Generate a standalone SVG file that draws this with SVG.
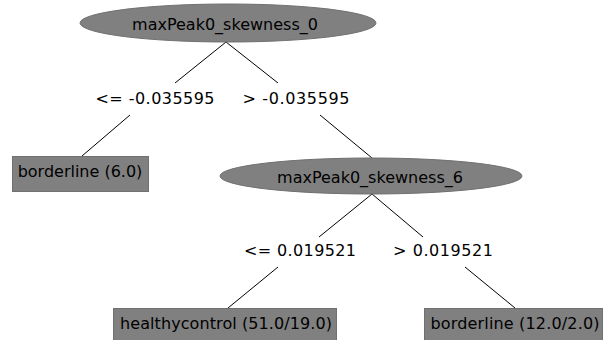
<svg xmlns="http://www.w3.org/2000/svg" width="605" height="340" viewBox="0 0 605 340">
<style>
text{font-family:"DejaVu Sans",sans-serif;font-size:16px;fill:#000;text-anchor:middle}
.n{fill:#808080;stroke:#707070;stroke-width:1}
.e{stroke:#000;stroke-width:1;fill:none}
</style>
<rect width="605" height="340" fill="#fff"/>
<g id="connectors">
<line class="e" x1="226" y1="42" x2="175" y2="83"/>
<line class="e" x1="226" y1="42" x2="278" y2="83"/>
<line class="e" x1="130" y1="115" x2="82" y2="156"/>
<line class="e" x1="320" y1="115" x2="372" y2="158"/>
<line class="e" x1="372" y1="194" x2="319" y2="237"/>
<line class="e" x1="372" y1="194" x2="423" y2="237"/>
<line class="e" x1="278" y1="267" x2="228" y2="308"/>
<line class="e" x1="465" y1="267" x2="515" y2="308"/>
<text x="155" y="104" textLength="119" lengthAdjust="spacing">&lt;= -0.035595</text>
<text x="296" y="104" textLength="107" lengthAdjust="spacing">&gt; -0.035595</text>
<text x="300" y="256" textLength="112" lengthAdjust="spacing">&lt;= 0.019521</text>
<text x="443" y="256" textLength="100" lengthAdjust="spacing">&gt; 0.019521</text>
</g>
<g id="node0">
<ellipse class="n" cx="228" cy="23" rx="148" ry="19"/>
<text x="225" y="30">maxPeak0_skewness_0</text>
</g>
<g id="node1">
<rect class="n" x="12.5" y="156.5" width="136" height="35"/>
<text x="80" y="177">borderline (6.0)</text>
</g>
<g id="node2">
<ellipse class="n" cx="371" cy="176" rx="151" ry="18"/>
<text x="370" y="183">maxPeak0_skewness_6</text>
</g>
<g id="node3">
<rect class="n" x="113.5" y="308.5" width="223" height="35"/>
<text x="226" y="329" textLength="212" lengthAdjust="spacing">healthycontrol (51.0/19.0)</text>
</g>
<g id="node4">
<rect class="n" x="424.5" y="308.5" width="178" height="35"/>
<text x="515" y="329" textLength="169" lengthAdjust="spacing">borderline (12.0/2.0)</text>
</g>
</svg>
